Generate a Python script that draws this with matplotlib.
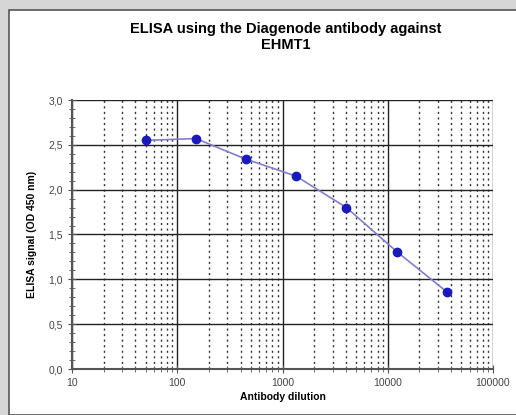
import numpy as np
import matplotlib.pyplot as plt
from matplotlib.patches import Rectangle
from matplotlib.ticker import LogLocator, FixedLocator, FuncFormatter, MultipleLocator

plt.rcParams["font.family"] = ["Liberation Sans", "DejaVu Sans"]

# donnees
dilution = [50, 150, 450, 1350, 4050, 12150, 36450]
signal = [2.55, 2.57, 2.34, 2.15, 1.80, 1.31, 0.86]
y_ticks = [0.0, 0.5, 1.0, 1.5, 2.0, 2.5, 3.0]
x_ticks = [10, 100, 1000, 10000, 100000]

W, H = 516, 415
fig = plt.figure(figsize=(W / 100, H / 100), dpi=100)
fig.patch.set_facecolor("#d6d6d6")
fig.patches.append(Rectangle((9 / W, 0), 1, 1 - 10 / H, transform=fig.transFigure,
                             facecolor="white", edgecolor="#555555", lw=1.2, zorder=-10))

ax = fig.add_axes([72 / W, 1 - 369 / H, (493 - 72) / W, (369 - 100) / H])
ax.set_xscale("log")
ax.set_xlim(10, 100000)
ax.set_ylim(0, 3.0)

ax.xaxis.set_major_locator(FixedLocator(x_ticks))
ax.xaxis.set_minor_locator(LogLocator(base=10, subs=np.arange(2, 10)))
ax.xaxis.set_major_formatter(FuncFormatter(lambda v, p: f"{int(v)}"))
ax.xaxis.set_minor_formatter(FuncFormatter(lambda v, p: ""))
ax.yaxis.set_major_locator(FixedLocator(y_ticks))
ax.yaxis.set_minor_locator(MultipleLocator(0.1))
ax.yaxis.set_major_formatter(FuncFormatter(lambda v, p: f"{v:.1f}".replace(".", ",")))

ax.grid(True, which="major", color="#222222", lw=1.0)
ax.grid(True, which="minor", axis="x", color="#333333", lw=1.0, ls=(0, (1.5, 2.5)))

for side in ["top", "right"]:
    ax.spines[side].set_visible(False)
for side in ["left", "bottom"]:
    ax.spines[side].set_color("#555555")
    ax.spines[side].set_linewidth(1.5)

ax.tick_params(which="both", direction="inout", colors="#555555", labelcolor="#444444",
               labelsize=7.5)
ax.tick_params(which="major", length=6)
ax.tick_params(which="minor", length=4)

ax.plot(dilution, signal, color="#8080c8", lw=1.2, zorder=3)
ax.plot(dilution, signal, "o", color="#1a1ab8", ms=6, zorder=4, clip_on=False)

ax.set_xlabel("Antibody dilution", fontsize=7.5, fontweight="bold", labelpad=3)
ax.set_ylabel("ELISA signal (OD 450 nm)", fontsize=7.5, fontweight="bold", labelpad=8)
fig.text(286 / W, 1 - 37 / H, "ELISA using the Diagenode antibody against\nEHMT1",
         ha="center", va="center", fontsize=10.5, fontweight="bold", linespacing=1.25)

fig.savefig("out.png", dpi=100, facecolor=fig.get_facecolor())
